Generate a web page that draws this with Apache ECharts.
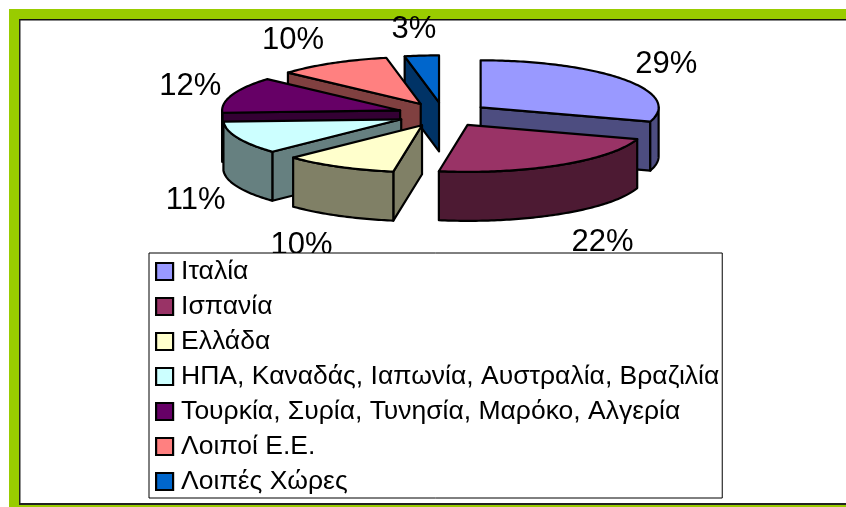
<!DOCTYPE html>
<html>
<head>
<meta charset="utf-8">
<style>html,body{margin:0;padding:0;background:#fff}#c{width:846px;height:507px}</style>
<script src="https://cdn.jsdelivr.net/npm/echarts@6/dist/echarts.min.js"></script>
</head>
<body>
<div id="c"></div>
<script>
const categories = ['Ιταλία','Ισπανία','Ελλάδα','ΗΠΑ, Καναδάς, Ιαπωνία, Αυστραλία, Βραζιλία','Τουρκία, Συρία, Τυνησία, Μαρόκο, Αλγερία','Λοιποί Ε.Ε.','Λοιπές Χώρες'];
const values = [29,22,10,11,12,10,3];
const topColors = ['#9999FF','#993366','#FFFFCC','#CCFFFF','#660066','#FF8080','#0066CC'];
const wallColors = ['#4D4D80','#4D1A33','#808066','#668080','#330033','#804040','#003366'];
const paintOrder = [4,5,6,3,2,1,0]; // series z for back-to-front painting

const CX=443.5, CY=114.5, A=178, B=47, DEPTH=49, EXPLODE=46/178;
const total = values.reduce((s,v)=>s+v,0);
const rad = d=>d*Math.PI/180;

function renderSlice(i){
  let before=0; for(let k=0;k<i;k++) before+=values[k];
  const a0=before/total*360, a1=(before+values[i])/total*360, mid=(a0+a1)/2;
  const tx=CX+A*EXPLODE*Math.sin(rad(mid)), ty=CY-B*EXPLODE*Math.cos(rad(mid));
  const P=d=>[tx+A*Math.sin(rad(d)), ty-B*Math.cos(rad(d))];
  const arc=(s,e)=>{const n=Math.max(2,Math.ceil(e-s)+1),o=[];for(let k=0;k<n;k++)o.push(P(s+(e-s)*k/(n-1)));return o;};
  const stroke={stroke:'#000',lineWidth:2.2,lineJoin:'round'};
  const down=p=>[p[0],p[1]+DEPTH];
  const kids=[];
  const wall=pts=>kids.push({type:'polygon',shape:{points:pts.concat(pts.slice().reverse().map(down))},style:{fill:wallColors[i],...stroke}});
  const tip=[tx,ty], s=P(a0), e=P(a1);
  if(s[0]<tip[0]-0.01) wall([tip,s]);
  if(tip[0]<e[0]-0.01) wall([e,tip]);
  const r0=Math.max(a0,90), r1=Math.min(a1,270);
  if(r1>r0) wall(arc(r0,r1));
  kids.push({type:'polygon',shape:{points:[tip].concat(arc(a0,a1))},style:{fill:topColors[i],...stroke}});
  // data label
  const sm=Math.sin(rad(mid)), cm=Math.cos(rad(mid));
  const rx=CX+(A+A*EXPLODE)*sm, ry=CY-(B+B*EXPLODE)*cm;
  const lx=rx+Math.max(-42,Math.min(42,sm*80)), ly=ry-cm*(cm<0?32:28)+(cm<0?DEPTH:0)+1.5;
  kids.push({type:'text',style:{x:lx,y:ly,text:values[i]+'%',fill:'#000',font:'31px "Liberation Sans"',align:'center',verticalAlign:'middle'}});
  return {type:'group',children:kids};
}

const chart=echarts.init(document.getElementById('c'),null,{renderer:'canvas'});
chart.setOption({
  animation:false,
  graphic:{elements:[
    {type:'rect',z:0,silent:true,shape:{x:9,y:9,width:837,height:10},style:{fill:'#99CC00'}},
    {type:'rect',z:0,silent:true,shape:{x:9,y:9,width:10,height:498},style:{fill:'#99CC00'}},
    {type:'rect',z:0,silent:true,shape:{x:19,y:505,width:827,height:2},style:{fill:'#99CC00'}},
    {type:'rect',z:0,silent:true,shape:{x:19,y:19,width:827,height:1.5},style:{fill:'#111'}},
    {type:'rect',z:0,silent:true,shape:{x:19,y:19,width:1.5,height:486},style:{fill:'#222'}},
    {type:'rect',z:0,silent:true,shape:{x:19,y:503,width:827,height:2},style:{fill:'#222'}}
  ]},
  legend:{
    z:10,left:149,top:253,orient:'vertical',
    data:categories,
    padding:[5,3,3,6],
    itemWidth:17,itemHeight:17,itemGap:8,
    selectedMode:false,
    backgroundColor:'#fff',borderColor:'#000',borderWidth:1,
    icon:'rect',
    itemStyle:{borderColor:'#000',borderWidth:2.2},
    textStyle:{color:'#000',fontFamily:'Liberation Sans',fontSize:26.5,padding:[0,0,0,3]}
  },
  series:categories.map((name,i)=>({
    type:'custom',name,coordinateSystem:'none',z:2+paintOrder[i],
    itemStyle:{color:topColors[i]},
    data:[[values[i]]],
    renderItem:()=>renderSlice(i)
  }))
});
</script>
</body>
</html>
